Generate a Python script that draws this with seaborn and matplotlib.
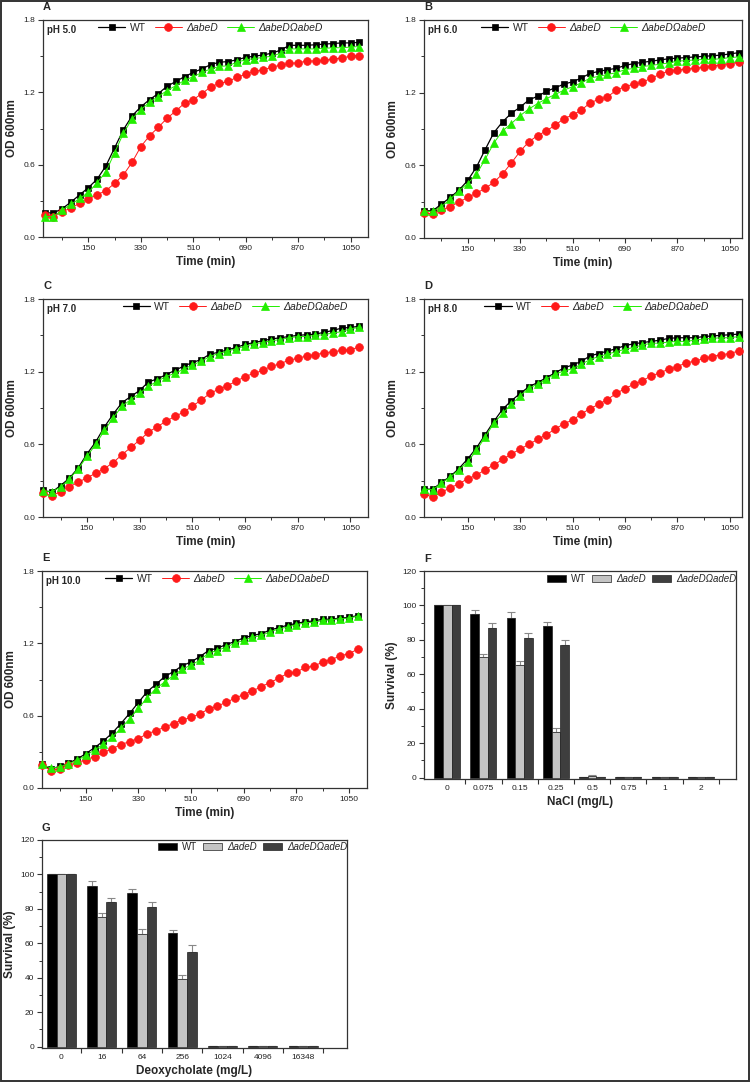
import numpy as np
import pandas as pd
import matplotlib
matplotlib.use("Agg")
import matplotlib.pyplot as plt
import seaborn as sns
from matplotlib.patches import Rectangle
from matplotlib.ticker import MultipleLocator, FixedLocator

sns.set_theme(style="white")
plt.rcParams['font.family'] = ['Liberation Sans', 'DejaVu Sans']

# ---------------- data ----------------
time_min = [0, 30, 60, 90, 120, 150, 180, 210, 240, 270, 300, 330, 360, 390, 420,
            450, 480, 510, 540, 570, 600, 630, 660, 690, 720, 750, 780, 810, 840,
            870, 900, 930, 960, 990, 1020, 1050, 1080]

strains_curve = ["WT", "\u0394abeD", "\u0394abeD\u03A9abeD"]

A_wt = [0.20, 0.20, 0.235, 0.29, 0.35, 0.41, 0.48, 0.59, 0.74, 0.89, 1.005, 1.08, 1.14, 1.19, 1.25,
        1.29, 1.33, 1.365, 1.395, 1.43, 1.45, 1.455, 1.47, 1.49, 1.50, 1.51, 1.525, 1.55, 1.59,
        1.59, 1.59, 1.595, 1.60, 1.605, 1.61, 1.61, 1.615]
A_del = [0.18, 0.17, 0.21, 0.24, 0.28, 0.315, 0.35, 0.385, 0.445, 0.515, 0.62, 0.75, 0.84, 0.91, 0.985,
         1.045, 1.11, 1.14, 1.19, 1.245, 1.275, 1.29, 1.325, 1.35, 1.375, 1.385, 1.41, 1.425, 1.44,
         1.445, 1.46, 1.46, 1.465, 1.475, 1.485, 1.50, 1.505]
A_comp = [0.17, 0.17, 0.225, 0.27, 0.32, 0.37, 0.45, 0.54, 0.70, 0.86, 0.98, 1.055, 1.12, 1.165, 1.215,
          1.255, 1.30, 1.33, 1.365, 1.395, 1.415, 1.42, 1.45, 1.47, 1.48, 1.49, 1.50, 1.525, 1.56,
          1.56, 1.56, 1.56, 1.565, 1.57, 1.57, 1.575, 1.58]

B_wt = [0.225, 0.225, 0.28, 0.335, 0.395, 0.475, 0.585, 0.73, 0.87, 0.96, 1.03, 1.08, 1.14, 1.17, 1.21,
        1.24, 1.27, 1.29, 1.32, 1.36, 1.375, 1.39, 1.40, 1.425, 1.44, 1.45, 1.46, 1.47, 1.48,
        1.485, 1.49, 1.495, 1.50, 1.505, 1.51, 1.52, 1.53]
B_del = [0.205, 0.20, 0.23, 0.26, 0.295, 0.335, 0.37, 0.41, 0.46, 0.53, 0.62, 0.715, 0.795, 0.845, 0.885,
         0.93, 0.985, 1.015, 1.055, 1.115, 1.145, 1.165, 1.22, 1.25, 1.27, 1.285, 1.32, 1.35, 1.38,
         1.385, 1.395, 1.40, 1.41, 1.42, 1.43, 1.44, 1.45]
B_comp = [0.22, 0.22, 0.26, 0.32, 0.39, 0.45, 0.525, 0.65, 0.785, 0.885, 0.945, 1.01, 1.065, 1.11, 1.15,
          1.185, 1.22, 1.25, 1.28, 1.32, 1.335, 1.35, 1.365, 1.39, 1.40, 1.415, 1.425, 1.435, 1.445,
          1.46, 1.465, 1.47, 1.475, 1.475, 1.48, 1.49, 1.495]

C_wt = [0.22, 0.205, 0.26, 0.32, 0.405, 0.52, 0.62, 0.745, 0.85, 0.945, 0.995, 1.045, 1.115, 1.14, 1.175,
        1.21, 1.245, 1.275, 1.30, 1.345, 1.36, 1.38, 1.40, 1.425, 1.44, 1.455, 1.47, 1.48, 1.49,
        1.50, 1.505, 1.51, 1.525, 1.54, 1.56, 1.565, 1.575]
C_del = [0.20, 0.175, 0.21, 0.25, 0.285, 0.325, 0.36, 0.40, 0.45, 0.515, 0.575, 0.635, 0.70, 0.745, 0.79,
         0.83, 0.865, 0.915, 0.965, 1.02, 1.055, 1.085, 1.12, 1.16, 1.185, 1.21, 1.245, 1.265, 1.295,
         1.31, 1.33, 1.34, 1.355, 1.365, 1.375, 1.38, 1.405]
C_comp = [0.215, 0.21, 0.245, 0.315, 0.395, 0.50, 0.60, 0.715, 0.82, 0.915, 0.97, 1.02, 1.08, 1.12, 1.16,
          1.185, 1.22, 1.255, 1.285, 1.325, 1.35, 1.37, 1.39, 1.41, 1.43, 1.44, 1.455, 1.465, 1.48,
          1.49, 1.49, 1.50, 1.505, 1.52, 1.53, 1.555, 1.565]

D_wt = [0.23, 0.23, 0.285, 0.335, 0.40, 0.48, 0.57, 0.68, 0.79, 0.89, 0.96, 1.02, 1.075, 1.11, 1.15,
        1.19, 1.23, 1.255, 1.285, 1.33, 1.35, 1.37, 1.39, 1.415, 1.43, 1.44, 1.45, 1.46, 1.475,
        1.48, 1.48, 1.48, 1.49, 1.495, 1.50, 1.505, 1.51]
D_del = [0.19, 0.165, 0.205, 0.24, 0.275, 0.315, 0.345, 0.39, 0.43, 0.475, 0.52, 0.56, 0.60, 0.64, 0.68,
         0.725, 0.77, 0.80, 0.85, 0.895, 0.93, 0.97, 1.02, 1.06, 1.095, 1.125, 1.165, 1.19, 1.22,
         1.24, 1.275, 1.285, 1.31, 1.325, 1.34, 1.35, 1.37]
D_comp = [0.23, 0.225, 0.28, 0.33, 0.39, 0.455, 0.55, 0.66, 0.775, 0.855, 0.93, 1.00, 1.065, 1.095, 1.14,
          1.18, 1.205, 1.225, 1.26, 1.30, 1.325, 1.345, 1.365, 1.385, 1.40, 1.42, 1.435, 1.435, 1.445,
          1.45, 1.45, 1.46, 1.47, 1.475, 1.48, 1.48, 1.49]

E_wt = [0.195, 0.155, 0.18, 0.205, 0.24, 0.285, 0.335, 0.39, 0.455, 0.535, 0.62, 0.71, 0.80, 0.86, 0.925,
        0.965, 1.015, 1.045, 1.09, 1.14, 1.16, 1.19, 1.215, 1.245, 1.265, 1.28, 1.31, 1.33, 1.35,
        1.365, 1.38, 1.385, 1.40, 1.40, 1.41, 1.415, 1.43]
E_del = [0.19, 0.145, 0.16, 0.19, 0.21, 0.235, 0.26, 0.295, 0.325, 0.36, 0.385, 0.41, 0.45, 0.475, 0.505,
         0.535, 0.565, 0.585, 0.615, 0.655, 0.68, 0.71, 0.745, 0.775, 0.805, 0.84, 0.875, 0.91, 0.95,
         0.96, 1.00, 1.01, 1.045, 1.065, 1.095, 1.115, 1.15]
E_comp = [0.195, 0.165, 0.175, 0.20, 0.23, 0.27, 0.315, 0.365, 0.42, 0.495, 0.575, 0.66, 0.75, 0.825, 0.88,
          0.935, 0.985, 1.02, 1.06, 1.12, 1.14, 1.17, 1.20, 1.225, 1.25, 1.265, 1.295, 1.32, 1.335,
          1.355, 1.37, 1.375, 1.39, 1.395, 1.405, 1.41, 1.425]

ph_labels = ["pH 5.0", "pH 6.0", "pH 7.0", "pH 8.0", "pH 10.0"]
panel_letters = ["A", "B", "C", "D", "E", "F", "G"]
time_ticks = [150, 330, 510, 690, 870, 1050]

strains_bar = ["WT", "\u0394adeD", "\u0394adeD\u03A9adeD"]

nacl_conc = ["0", "0.075", "0.15", "0.25", "0.5", "0.75", "1", "2"]
nacl_wt = [100, 95.3, 92.5, 88.0, 0.3, 0.2, 0.2, 0.2]
nacl_del = [100, 70.2, 65.5, 26.3, 1.0, 0.2, 0.2, 0.2]
nacl_comp = [100, 87.0, 81.2, 76.8, 0.3, 0.2, 0.2, 0.2]
nacl_wt_err = [0, 2.0, 3.8, 2.6, 0, 0, 0, 0]
nacl_del_err = [0, 1.5, 2.5, 2.8, 0.5, 0, 0, 0]
nacl_comp_err = [0, 2.6, 2.8, 3.3, 0, 0, 0, 0]

doc_conc = ["0", "16", "64", "256", "1024", "4096", "16348"]
doc_wt = [100, 93.0, 89.2, 65.7, 0.3, 0.3, 0.3]
doc_del = [100, 75.5, 65.6, 39.5, 0.2, 0.2, 0.2]
doc_comp = [100, 84.0, 81.3, 55.0, 0.2, 0.2, 0.2]
doc_wt_err = [0, 3.0, 2.3, 2.3, 0, 0, 0]
doc_del_err = [0, 2.0, 2.8, 2.3, 0, 0, 0]
doc_comp_err = [0, 2.6, 2.6, 3.8, 0, 0, 0]

# ---------------- styling ----------------
W, H = 750, 1082
fig = plt.figure(figsize=(W / 100, H / 100), dpi=100)
fig.patch.set_facecolor("white")

TICK_FS = 6
LABEL_FS = 8.5
LEG_FS = 7.5
SPINE_C = "#333333"

def rect(l, t, r, b):
    return [l / W, (H - b) / H, (r - l) / W, (b - t) / H]

curve_rects = [rect(43, 20, 368, 237), rect(424, 20, 742, 238),
               rect(43, 299, 368, 517), rect(424, 299, 742, 517),
               rect(42, 571, 367, 788)]
curve_xlims = [(-6, 1110), (0, 1092), (0, 1110), (0, 1092), (0, 1112)]
leg_x = [0.17, 0.18, 0.245, 0.19, 0.195]
curve_data = [(A_wt, A_del, A_comp), (B_wt, B_del, B_comp), (C_wt, C_del, C_comp),
              (D_wt, D_del, D_comp), (E_wt, E_del, E_comp)]

colors = ["black", "#ff1a1a", "#22ee00"]
markers = ["s", "o", "^"]
msizes = [4.6, 5.6, 5.6]
lws = [0.9, 0.7, 0.7]

def style_spines(ax):
    for s in ax.spines.values():
        s.set_visible(True)
        s.set_color(SPINE_C)
        s.set_linewidth(0.9)

for i in range(5):
    ax = fig.add_axes(curve_rects[i])
    df = pd.DataFrame({"time": time_min * 3,
                       "od": list(curve_data[i][0]) + list(curve_data[i][1]) + list(curve_data[i][2]),
                       "strain": [strains_curve[0]] * len(time_min) + [strains_curve[1]] * len(time_min)
                                 + [strains_curve[2]] * len(time_min)})
    for j in [0, 1, 2]:
        sub = df[df["strain"] == strains_curve[j]]
        sns.lineplot(data=sub, x="time", y="od", ax=ax, color=colors[j], marker=markers[j],
                     markersize=msizes[j], markeredgecolor=colors[j], markeredgewidth=0.5,
                     linewidth=lws[j], label=strains_curve[j], clip_on=False, zorder=3 + j)
    ax.set_xlim(*curve_xlims[i])
    ax.set_ylim(0, 1.8)
    ax.xaxis.set_major_locator(FixedLocator(time_ticks))
    ax.xaxis.set_minor_locator(FixedLocator([60, 240, 420, 600, 780, 960]))
    ax.yaxis.set_major_locator(MultipleLocator(0.6))
    ax.yaxis.set_minor_locator(MultipleLocator(0.3))
    ax.set_yticklabels(["%.1f" % v for v in ax.get_yticks()])
    ax.tick_params(axis="both", which="major", direction="out", length=3.5, width=0.8,
                   labelsize=TICK_FS, colors=SPINE_C, labelcolor="#222222", pad=2,
                   bottom=True, left=True, top=False, right=False)
    ax.tick_params(axis="both", which="minor", direction="out", length=2, width=0.7,
                   colors=SPINE_C, bottom=True, left=True, top=False, right=False)
    style_spines(ax)
    ax.set_xlabel("Time (min)", fontsize=LABEL_FS, fontweight="bold", labelpad=3)
    ax.set_ylabel("OD 600nm", fontsize=LABEL_FS, fontweight="bold", labelpad=4)
    ax.text(0.012, 0.975, ph_labels[i], transform=ax.transAxes, fontsize=7,
            fontweight="bold", va="top", ha="left")
    ax.text(0.0, 1.035, panel_letters[i], transform=ax.transAxes, fontsize=8,
            fontweight="bold", va="bottom", ha="left")
    leg = ax.legend(loc="center left", bbox_to_anchor=(leg_x[i], 0.965), ncol=3, frameon=False,
                    fontsize=LEG_FS, handlelength=2.6, handletextpad=0.4, columnspacing=0.9,
                    borderaxespad=0, borderpad=0)
    for k, t in enumerate(leg.get_texts()):
        if k > 0:
            t.set_fontstyle("italic")

bar_colors = ["black", "#c4c4c4", "#3e3e3e"]

def bar_panel(r, xlim, concs, vals, errs, xlabel, letter, leg_anchor):
    ax = fig.add_axes(r)
    n = len(concs)
    df = pd.DataFrame({"conc": concs * 3,
                       "survival": list(vals[0]) + list(vals[1]) + list(vals[2]),
                       "strain": [strains_bar[0]] * n + [strains_bar[1]] * n + [strains_bar[2]] * n})
    sns.barplot(data=df, x="conc", y="survival", hue="strain", order=concs, hue_order=strains_bar,
                palette=bar_colors, width=0.72, errorbar=None, edgecolor="#222222", linewidth=0.5,
                ax=ax, zorder=2)
    for cont, err in zip(ax.containers, errs):
        xs = [p.get_x() + p.get_width() / 2 for p in cont.patches]
        hs = [p.get_height() for p in cont.patches]
        e = np.array(err)
        ax.errorbar(xs, hs, yerr=[np.zeros_like(e), e], fmt="none", ecolor="#888888",
                    elinewidth=0.8, capsize=2.6, capthick=0.8, zorder=1)
    ax.set_xlim(*xlim)
    ax.set_ylim(-0.8, 120)
    ax.yaxis.set_major_locator(MultipleLocator(20))
    ax.yaxis.set_minor_locator(MultipleLocator(10))
    ax.set_xticks(np.arange(n) + 0.5)
    ax.set_xticklabels([""] * n)
    ax.set_xticks(np.arange(n), minor=True)
    ax.set_xticklabels(concs, minor=True)
    ax.tick_params(axis="x", which="major", direction="out", length=3.5, width=0.8,
                   colors=SPINE_C, bottom=True, top=False)
    ax.tick_params(axis="x", which="minor", length=0, labelsize=TICK_FS, labelcolor="#222222", pad=4)
    ax.tick_params(axis="y", which="major", direction="out", length=3.5, width=0.8,
                   labelsize=TICK_FS, colors=SPINE_C, labelcolor="#222222", left=True, right=False, pad=2)
    ax.tick_params(axis="y", which="minor", direction="out", length=2, width=0.7,
                   colors=SPINE_C, left=True, right=False)
    style_spines(ax)
    ax.set_xlabel(xlabel, fontsize=LABEL_FS, fontweight="bold", labelpad=3)
    ax.set_ylabel("Survival (%)", fontsize=LABEL_FS, fontweight="bold", labelpad=3)
    ax.text(0.0, 1.035, letter, transform=ax.transAxes, fontsize=8,
            fontweight="bold", va="bottom", ha="left")
    leg = ax.legend(loc="center right", bbox_to_anchor=leg_anchor, ncol=3, frameon=False,
                    fontsize=7, handlelength=2.0, handleheight=0.8, handletextpad=0.5,
                    columnspacing=0.6, borderaxespad=0, borderpad=0)
    for k, t in enumerate(leg.get_texts()):
        if k > 0:
            t.set_fontstyle("italic")
    return ax

bar_panel(rect(424, 571, 736, 779), (-0.64, 7.97), nacl_conc,
          (nacl_wt, nacl_del, nacl_comp), (nacl_wt_err, nacl_del_err, nacl_comp_err),
          "NaCl (mg/L)", "F", (1.0, 0.962))
bar_panel(rect(42, 840, 347, 1048), (-0.48, 7.09), doc_conc,
          (doc_wt, doc_del, doc_comp), (doc_wt_err, doc_del_err, doc_comp_err),
          "Deoxycholate (mg/L)", "G", (1.0, 0.966))

fig.patches.append(Rectangle((0.0015, 0.001), 0.997, 0.998, transform=fig.transFigure,
                             fill=False, lw=1.4, ec="#333333", zorder=10))

fig.savefig("out.png", dpi=100, facecolor="white")
